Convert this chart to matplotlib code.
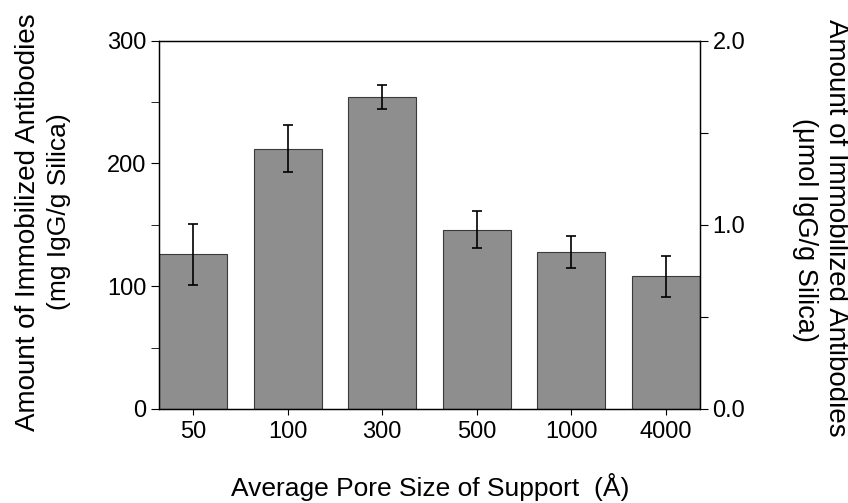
import matplotlib.pyplot as plt
import numpy as np

# Data

pore_sizes = ["50", "100", "300", "500", "1000", "4000"]
amount_mg = [126, 212, 254, 146, 128, 108]
err_mg = [25, 19, 10, 15, 13, 17]

plt.rcParams["font.family"] = ["Liberation Sans", "DejaVu Sans"]

fig = plt.figure(figsize=(8.48, 5.03), dpi=100)
ax = fig.add_axes([0.1875, 0.187, 0.638, 0.732])

x = np.arange(len(pore_sizes))
ax.bar(x, amount_mg, width=0.72, color="#8e8e8e", edgecolor="#3a3a3a", linewidth=0.8)
ax.errorbar(x, amount_mg, yerr=err_mg, fmt="none", ecolor="black",
            elinewidth=1.2, capsize=3.5, capthick=1.2)

ax.set_xlim(-0.36, 5.36)
ax.set_ylim(0, 300)
ax.set_xticks(x)
ax.set_xticklabels(pore_sizes)
ax.set_yticks([0, 100, 200, 300])
ax.set_yticks([50, 150, 250], minor=True)
ax.tick_params(axis="both", labelsize=17, direction="out", width=0.8)
ax.tick_params(axis="y", which="major", length=6, pad=3)
ax.tick_params(axis="y", which="minor", length=6)
ax.tick_params(axis="x", length=4, pad=5)

# right axis in umol
ax2 = ax.twinx()
ax2.set_ylim(0, 2.0)
ax2.set_yticks([0.0, 1.0, 2.0])
ax2.set_yticklabels(["0.0", "1.0", "2.0"])
ax2.set_yticks([0.5, 1.5], minor=True)
ax2.tick_params(axis="y", labelsize=17, direction="out", length=6, width=0.8, pad=3)
ax2.tick_params(axis="y", which="minor", length=6, width=0.8)

for a in (ax, ax2):
    for s in a.spines.values():
        s.set_linewidth(0.9)

fig.text(0.033, 0.559, "Amount of Immobilized Antibodies", rotation=90,
         ha="center", va="center", fontsize=20)
fig.text(0.069, 0.579, "(mg IgG/g Silica)", rotation=90,
         ha="center", va="center", fontsize=19)
fig.text(0.986, 0.547, "Amount of Immobilized Antibodies", rotation=270,
         ha="center", va="center", fontsize=20)
fig.text(0.949, 0.543, "(\u03bcmol IgG/g Silica)", rotation=270,
         ha="center", va="center", fontsize=19.5)
fig.text(0.507, 0.032, "Average Pore Size of Support  (\u00c5)",
         ha="center", va="center", fontsize=19)

fig.savefig("out.png", dpi=100)
